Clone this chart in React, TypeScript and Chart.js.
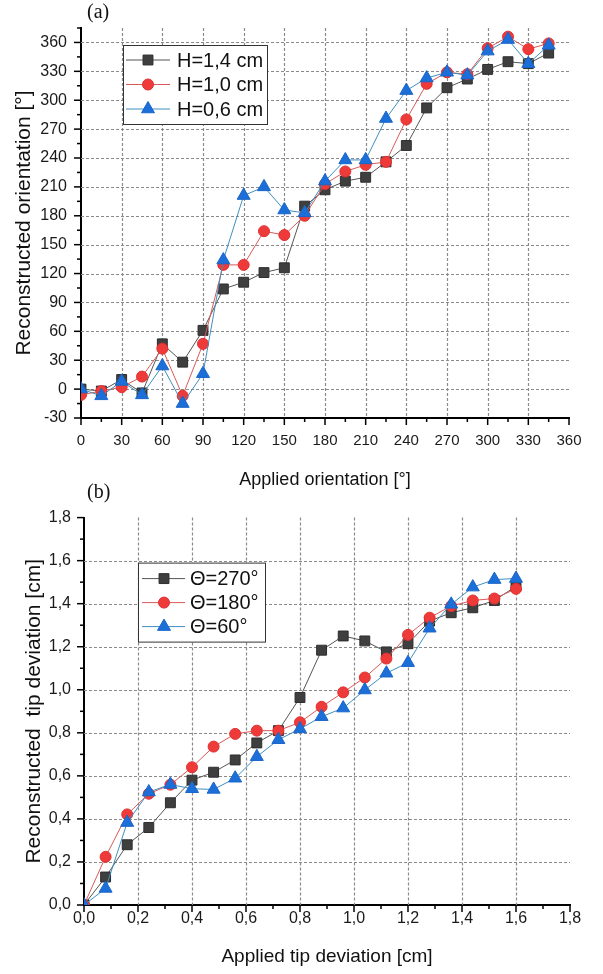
import React, { useEffect, useRef } from 'react';
import { Chart, registerables } from 'chart.js';
Chart.register(...registerables);

// ---------- Data: panel (a) ----------
const orientX = [0, 15, 30, 45, 60, 75, 90, 105, 120, 135, 150, 165, 180, 195, 210, 225, 240, 255, 270, 285, 300, 315, 330, 345];
const h14 = [0, -2, 10, -4, 47, 28, 61, 104, 111, 121, 126, 190, 207, 216, 220, 236, 253, 292, 313, 322, 332, 340, 338, 349];
const h10 = [-6, -2, 2, 13, 42, -7, 47, 129, 129, 164, 160, 180, 213, 226, 233, 236, 280, 317, 329, 327, 354, 366, 353, 359];
const h06 = [0, -7, 8, -6, 24, -15, 16, 134, 201, 210, 186, 183, 216, 238, 238, 281, 310, 323, 329, 326, 351, 363, 338, 357];
const orientXMajor = [0, 30, 60, 90, 120, 150, 180, 210, 240, 270, 300, 330, 360];
const orientXMinor = [15, 45, 75, 105, 135, 165, 195, 225, 255, 285, 315, 345];
const orientYMajor = [-30, 0, 30, 60, 90, 120, 150, 180, 210, 240, 270, 300, 330, 360];
const orientYMinor = [-15, 15, 45, 75, 105, 135, 165, 195, 225, 255, 285, 315, 345, 375];

// ---------- Data: panel (b) ----------
const tipX = [0, 0.08, 0.16, 0.24, 0.32, 0.4, 0.48, 0.56, 0.64, 0.72, 0.8, 0.88, 0.96, 1.04, 1.12, 1.2, 1.28, 1.36, 1.44, 1.52, 1.6];
const th270 = [0, 0.13, 0.28, 0.36, 0.475, 0.58, 0.617, 0.674, 0.753, 0.81, 0.964, 1.184, 1.25, 1.227, 1.176, 1.214, 1.319, 1.358, 1.381, 1.415, 1.481];
const th180 = [0, 0.224, 0.421, 0.517, 0.559, 0.64, 0.736, 0.795, 0.81, 0.81, 0.849, 0.921, 0.988, 1.057, 1.145, 1.255, 1.335, 1.389, 1.415, 1.424, 1.469];
const th60 = [0, 0.077, 0.383, 0.525, 0.56, 0.54, 0.537, 0.589, 0.689, 0.768, 0.818, 0.875, 0.915, 0.999, 1.077, 1.126, 1.286, 1.397, 1.477, 1.512, 1.517];
const tipMajor = [0, 0.2, 0.4, 0.6, 0.8, 1.0, 1.2, 1.4, 1.6, 1.8];
const tipMinor = [0.1, 0.3, 0.5, 0.7, 0.9, 1.1, 1.3, 1.5, 1.7];

const SANS = '"Liberation Sans", Arial, sans-serif';

const isIn = (arr: number[], v: number) => arr.some((m) => Math.abs(m - v) < 1e-6);
const buildTicks = (major: number[], minor: number[]) =>
  [...major, ...minor].sort((a, b) => a - b).map((v) => ({ value: v }));
const toPts = (xs: number[], ys: number[]) => xs.map((x, i) => ({ x, y: ys[i] }));

const SERIES_STYLE = [
  { line: '#555555', fill: '#3f3f3f', border: '#2e2e2e', style: 'rect', radius: 7, order: 2 },
  { line: '#d85a5a', fill: '#ef3a3a', border: '#e03030', style: 'circle', radius: 5.5, order: 1 },
  { line: '#3f8fbf', fill: '#1c6ed8', border: '#1a66c8', style: 'triangle', radius: 7.5, order: 0 },
];

function drawMarker(ctx: CanvasRenderingContext2D, style: string, x: number, y: number, r: number, fill: string, stroke: string) {
  ctx.beginPath();
  if (style === 'rect') {
    const s = Math.SQRT1_2 * r;
    ctx.rect(x - s, y - s, 2 * s, 2 * s);
  } else if (style === 'circle') {
    ctx.arc(x, y, r, 0, Math.PI * 2);
  } else {
    let rad = 0;
    ctx.moveTo(x + Math.sin(rad) * r, y - Math.cos(rad) * r);
    rad += (2 * Math.PI) / 3;
    ctx.lineTo(x + Math.sin(rad) * r, y - Math.cos(rad) * r);
    rad += (2 * Math.PI) / 3;
    ctx.lineTo(x + Math.sin(rad) * r, y - Math.cos(rad) * r);
    ctx.closePath();
  }
  ctx.fillStyle = fill;
  ctx.fill();
  ctx.lineWidth = 1;
  ctx.strokeStyle = stroke;
  ctx.stroke();
}

// Dotted grid lines at the major ticks, positioned through the chart's own scales
function makeGridPlugin(xMajor: number[], yMajor: number[], xMin: number, xMax: number, yMin: number, yMax: number) {
  return {
    id: 'dotGrid',
    beforeDatasetsDraw(chart: any) {
      const ctx = chart.ctx;
      const area = chart.chartArea;
      const xs = chart.scales.x;
      const ys = chart.scales.y;
      ctx.save();
      ctx.strokeStyle = '#8a8a8a';
      ctx.lineWidth = 1.2;
      ctx.setLineDash([3, 2]);
      for (const v of xMajor) {
        if (Math.abs(v - xMin) < 1e-6 || Math.abs(v - xMax) < 1e-6) continue;
        const p = Math.round(xs.getPixelForValue(v)) + 0.5;
        ctx.beginPath();
        ctx.moveTo(p, area.top);
        ctx.lineTo(p, area.bottom);
        ctx.stroke();
      }
      for (const v of yMajor) {
        if (Math.abs(v - yMin) < 1e-6 || Math.abs(v - yMax) < 1e-6) continue;
        const p = Math.round(ys.getPixelForValue(v)) + 0.5;
        ctx.beginPath();
        ctx.moveTo(area.left, p);
        ctx.lineTo(area.right, p);
        ctx.stroke();
      }
      ctx.restore();
    },
  };
}

function makeTickPlugin(xMajor: number[], yMajor: number[]) {
  return {
    id: 'tickMarks',
    afterDraw(chart: any) {
      const ctx = chart.ctx;
      ctx.save();
      ctx.strokeStyle = '#000';
      ctx.lineWidth = 1.5;
      const xs = chart.scales.x;
      const ys = chart.scales.y;
      xs.ticks.forEach((t: any) => {
        const len = isIn(xMajor, t.value) ? 7 : 4;
        const p = xs.getPixelForValue(t.value);
        ctx.beginPath();
        ctx.moveTo(p, chart.chartArea.bottom);
        ctx.lineTo(p, chart.chartArea.bottom + len);
        ctx.stroke();
      });
      ys.ticks.forEach((t: any) => {
        const len = isIn(yMajor, t.value) ? 7 : 4;
        const p = ys.getPixelForValue(t.value);
        ctx.beginPath();
        ctx.moveTo(chart.chartArea.left, p);
        ctx.lineTo(chart.chartArea.left - len, p);
        ctx.stroke();
      });
      ctx.restore();
    },
  };
}

function makeLegendPlugin(box: any) {
  return {
    id: 'boxLegend',
    afterDraw(chart: any) {
      const { ctx, chartArea } = chart;
      const x = chartArea.left + box.dx;
      const y = chartArea.top + box.dy;
      ctx.save();
      ctx.fillStyle = '#fff';
      ctx.fillRect(x, y, box.w, box.h);
      ctx.strokeStyle = '#333';
      ctx.lineWidth = 1;
      ctx.strokeRect(x + 0.5, y + 0.5, box.w, box.h);
      chart.data.datasets.forEach((ds: any, i: number) => {
        const cy = y + box.rowY + i * box.rowGap;
        ctx.strokeStyle = ds.borderColor;
        ctx.lineWidth = 1;
        ctx.beginPath();
        ctx.moveTo(x + box.lineX0, cy);
        ctx.lineTo(x + box.lineX1, cy);
        ctx.stroke();
        drawMarker(ctx, ds.pointStyle, x + box.markX, cy, ds.pointRadius, ds.pointBackgroundColor, ds.pointBorderColor);
        ctx.fillStyle = '#111';
        ctx.font = box.font;
        ctx.textBaseline = 'middle';
        ctx.textAlign = 'left';
        ctx.fillText(ds.label, x + box.textX, cy + 1);
      });
      ctx.restore();
    },
  };
}

function makeConfig(p: any) {
  const datasets = p.series.map((s: any, i: number) => {
    const st = SERIES_STYLE[i];
    return {
      label: s.label,
      data: toPts(p.xs, s.ys),
      borderColor: st.line,
      borderWidth: 1,
      pointStyle: st.style,
      pointRadius: st.radius,
      pointBackgroundColor: st.fill,
      pointBorderColor: st.border,
      pointBorderWidth: 1,
      fill: false,
      tension: 0,
      order: st.order,
    };
  });
  return {
    type: 'line',
    data: { datasets },
    plugins: [
      makeGridPlugin(p.xMajor, p.yMajor, p.xMin, p.xMax, p.yMin, p.yMax),
      makeTickPlugin(p.xMajor, p.yMajor),
      makeLegendPlugin(p.legend),
    ],
    options: {
      animation: false,
      responsive: false,
      events: [],
      layout: { padding: p.padding },
      plugins: { legend: { display: false }, tooltip: { enabled: false }, title: { display: false } },
      scales: {
        x: {
          type: 'linear',
          min: p.xMin,
          max: p.xMax,
          afterBuildTicks: (s: any) => { s.ticks = buildTicks(p.xMajor, p.xMinor); },
          afterFit: (s: any) => { s.height = p.xAxisHeight; },
          grid: { display: false, drawTicks: false },
          border: { display: true, color: '#000', width: 2 },
          ticks: {
            autoSkip: false,
            maxRotation: 0,
            padding: p.xTickPad,
            color: '#1a1a1a',
            font: { family: SANS, size: p.xTickSize },
            callback: (v: number) => (isIn(p.xMajor, v) ? p.fmt(v) : ''),
          },
          title: {
            display: true,
            text: p.xTitle,
            color: '#111',
            font: { family: SANS, size: p.xTitleSize },
            padding: { top: 0, bottom: p.xTitlePad },
          },
        },
        y: {
          type: 'linear',
          min: p.yMin,
          max: p.yMax,
          afterBuildTicks: (s: any) => { s.ticks = buildTicks(p.yMajor, p.yMinor); },
          afterFit: (s: any) => { s.width = p.yAxisWidth; },
          grid: { display: false, drawTicks: false },
          border: { display: true, color: '#000', width: 2 },
          ticks: {
            autoSkip: false,
            padding: p.yTickPad,
            color: '#1a1a1a',
            font: { family: SANS, size: p.yTickSize },
            callback: (v: number) => (isIn(p.yMajor, v) ? p.fmt(v) : ''),
          },
          title: {
            display: true,
            text: p.yTitle,
            color: '#111',
            font: { family: SANS, size: p.yTitleSize },
            padding: { top: p.yTitlePad, bottom: 0 },
          },
        },
      },
    },
  };
}

const fmtInt = (v: number) => String(Math.round(v));
const fmtComma = (v: number) => v.toFixed(1).replace('.', ',');

const configA = {
  xs: orientX,
  series: [
    { label: 'H=1,4 cm', ys: h14 },
    { label: 'H=1,0 cm', ys: h10 },
    { label: 'H=0,6 cm', ys: h06 },
  ],
  xMin: 0, xMax: 360, yMin: -30, yMax: 375,
  xMajor: orientXMajor, xMinor: orientXMinor, yMajor: orientYMajor, yMinor: orientYMinor,
  fmt: fmtInt,
  padding: { left: 0, right: 34, top: 28, bottom: 0 },
  xAxisHeight: 77, yAxisWidth: 81,
  xTickPad: 14, yTickPad: 14, xTickSize: 15, yTickSize: 16,
  xTitle: 'Applied orientation [°]', xTitleSize: 18, xTitlePad: 4,
  yTitle: 'Reconstructed orientation [°]', yTitleSize: 21, yTitlePad: 12,
  legend: { dx: 42, dy: 17, w: 144, h: 79, rowY: 15, rowGap: 24.5, lineX0: 3, lineX1: 47, markX: 25, textX: 54, font: `20px ${SANS}` },
};

const configB = {
  xs: tipX,
  series: [
    { label: 'Θ=270°', ys: th270 },
    { label: 'Θ=180°', ys: th180 },
    { label: 'Θ=60°', ys: th60 },
  ],
  xMin: 0, xMax: 1.8, yMin: 0, yMax: 1.8,
  xMajor: tipMajor, xMinor: tipMinor, yMajor: tipMajor, yMinor: tipMinor,
  fmt: fmtComma,
  padding: { left: 0, right: 33, top: 20, bottom: 0 },
  xAxisHeight: 69, yAxisWidth: 84,
  xTickPad: 4, yTickPad: 13, xTickSize: 16, yTickSize: 16,
  xTitle: 'Applied tip deviation [cm]', xTitleSize: 19, xTitlePad: 6,
  yTitle: 'Reconstructed  tip deviation [cm]', yTitleSize: 21, yTitlePad: 22,
  legend: { dx: 54, dy: 45, w: 127, h: 79, rowY: 16, rowGap: 24, lineX0: 4, lineX1: 47, markX: 26, textX: 52, font: `20px ${SANS}` },
};

function ChartCanvas({ cfg, width, height }: { cfg: any; width: number; height: number }) {
  const ref = useRef<HTMLCanvasElement | null>(null);
  useEffect(() => {
    if (!ref.current) return;
    const chart = new Chart(ref.current, makeConfig(cfg) as any);
    return () => chart.destroy();
  }, [cfg]);
  return <canvas ref={ref} width={width} height={height} style={{ display: 'block', width, height }} />;
}

export default function App() {
  const serif = '"Liberation Serif", "Times New Roman", serif';
  return (
    <div style={{ position: 'absolute', left: 0, top: 0, width: 603, height: 974, background: '#fff', overflow: 'hidden' }}>
      <div style={{ position: 'absolute', left: 0, top: 0 }}>
        <ChartCanvas cfg={configA} width={603} height={495} />
      </div>
      <div style={{ position: 'absolute', left: 0, top: 495 }}>
        <ChartCanvas cfg={configB} width={603} height={479} />
      </div>
      <div style={{ position: 'absolute', left: 87, top: 0, fontFamily: serif, fontSize: 20, lineHeight: '22px', color: '#111' }}>(a)</div>
      <div style={{ position: 'absolute', left: 87, top: 480, fontFamily: serif, fontSize: 20, lineHeight: '22px', color: '#111' }}>(b)</div>
    </div>
  );
}
